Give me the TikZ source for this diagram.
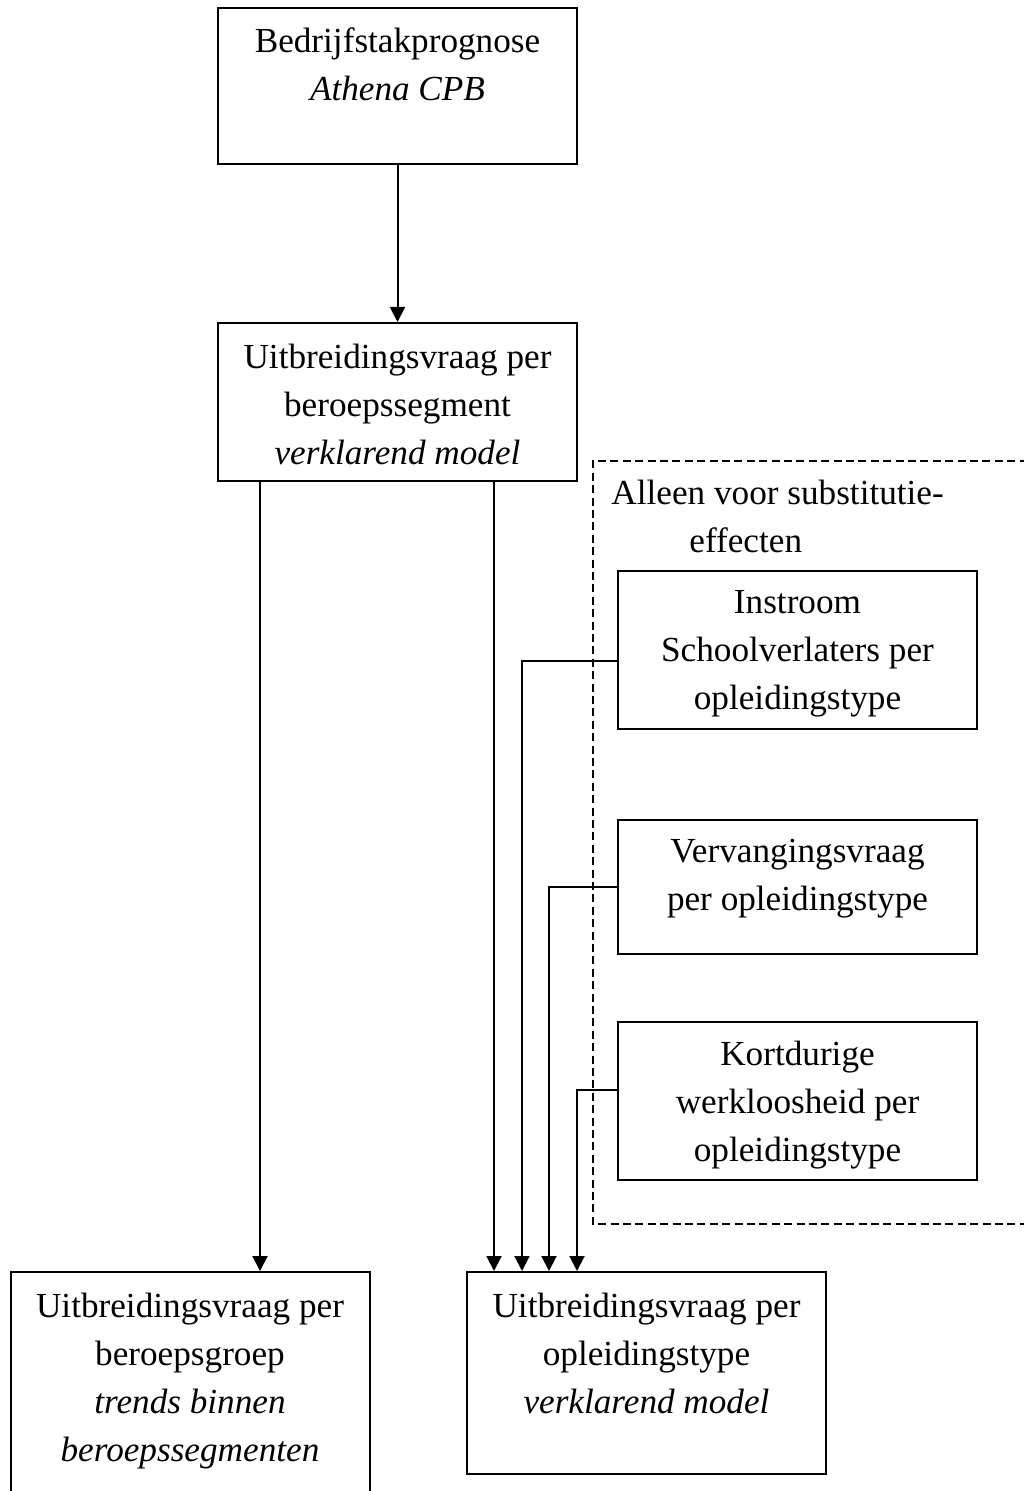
\documentclass[tikz,border=0pt]{standalone}
\usepackage{fontspec}
\setmainfont{Liberation Serif}
\usepackage{tikz}
\usetikzlibrary{arrows.meta}
\tikzset{>={Triangle[length=7.5pt,width=7.5pt]}}
\tikzset{
  box/.style={draw, line width=1pt, minimum width=179.5pt, inner sep=0pt},
  boxtext/.style={anchor=north, align=center, inner sep=0pt, font=\fontsize{17.6}{24}\selectfont},
  conn/.style={line width=1pt, ->},
  substframe/.style={line width=0.8pt, dash pattern=on 4pt off 2.2pt}
}

\begin{document}
\begin{tikzpicture}[x=0.5pt, y=-0.5pt]
  \useasboundingbox (0,0) rectangle (1023,1491);

  % Boxes
  \node[box, minimum height=78pt] (athena) at (397.5,86) {};
  \node[box, minimum height=79pt] (segment) at (397.5,402) {};
  \node[box, minimum height=114pt] (groep) at (190,1386) {};
  \node[box, minimum height=101pt] (opltype) at (646.5,1373) {};
  \node[box, minimum height=79pt] (instroom) at (797.5,650) {};
  \node[box, minimum height=67pt] (vervanging) at (797.5,887) {};
  \node[box, minimum height=79pt] (kortdurig) at (797.5,1101) {};

  % Texts
  \node[boxtext] (athenatxt) at ([yshift=-10pt]athena.north) {Bedrijfstakprognose\\\textit{Athena CPB}};
  \node[boxtext] (segmenttxt) at ([yshift=-11pt]segment.north) {Uitbreidingsvraag per\\beroepssegment\\\textit{verklarend model}};
  \node[boxtext] (groeptxt) at ([yshift=-11pt]groep.north) {Uitbreidingsvraag per\\beroepsgroep\\\textit{trends binnen}\\\textit{beroepssegmenten}};
  \node[boxtext] (opltypetxt) at ([yshift=-11pt]opltype.north) {Uitbreidingsvraag per\\opleidingstype\\\textit{verklarend model}};
  \node[boxtext] (instroomtxt) at ([yshift=-10pt]instroom.north) {Instroom\\Schoolverlaters per\\opleidingstype};
  \node[boxtext] (vervangingtxt) at ([yshift=-10pt]vervanging.north) {Vervangingsvraag\\per opleidingstype};
  \node[boxtext] (kortdurigtxt) at ([yshift=-10pt]kortdurig.north) {Kortdurige\\werkloosheid per\\opleidingstype};

  % Substitution frame
  \draw[substframe] (1040,461) -- (593,461) -- (593,1224) -- (1040,1224);
  \node[boxtext, anchor=north west, align=left] (substtxt) at (611,480) {Alleen voor substitutie-\\\hspace*{39pt}effecten};

  % Connectors
  \draw[conn] (athena) -- (segment);
  \draw[conn] ([xshift=-68.75pt]segment.south) -- ([xshift=-68.75pt]segment.south |- groep.north);
  \draw[conn] ([xshift=48.25pt]segment.south) -- ([xshift=-76.25pt]opltype.north);
  \draw[conn] ([yshift=-5.5pt]instroom.west) -| ([xshift=-62.25pt]opltype.north);
  \draw[conn] (vervanging.west) -| ([xshift=-48.75pt]opltype.north);
  \draw[conn] ([yshift=5.5pt]kortdurig.west) -| ([xshift=-34.75pt]opltype.north);
\end{tikzpicture}
\end{document}
